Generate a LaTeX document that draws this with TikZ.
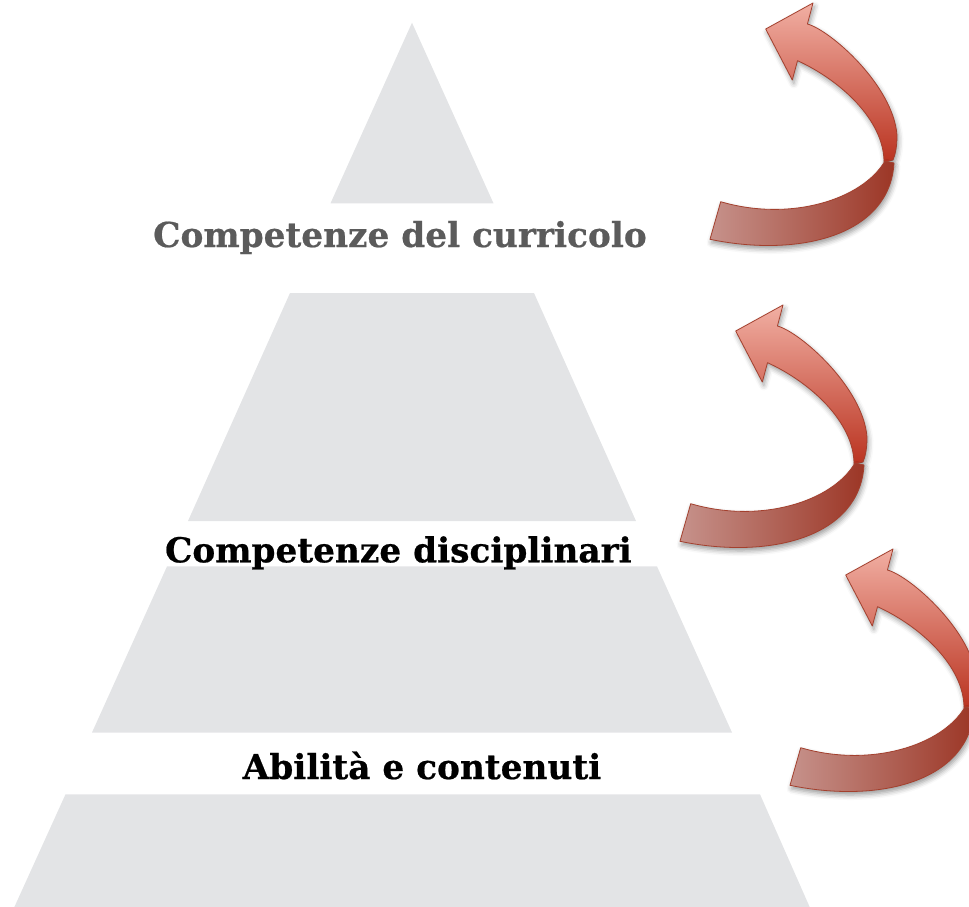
\documentclass[tikz,border=0pt]{standalone}
\usepackage{fontspec}
\setmainfont{DejaVu Serif}[BoldFeatures={FakeBold=0.6}]
\usepackage{tikz}
\usetikzlibrary{shadows.blur}
\definecolor{layergray}{HTML}{E3E4E6}
\definecolor{labelgray}{HTML}{5B5B5B}
\definecolor{arrowedge}{HTML}{A3402E}
\definecolor{arrowlight}{HTML}{F1AFA3}
\definecolor{arrowmid}{HTML}{D86552}
\definecolor{arrowdark}{HTML}{BA3320}
\definecolor{backlight}{HTML}{C6928B}
\definecolor{backdark}{HTML}{9C3626}
\tikzset{
  layer/.style={fill=layergray, draw=none},
  lbl/.style={font=\fontsize{34.3}{40}\selectfont\bfseries, inner sep=0pt, anchor=base},
  arrowshadow/.style={blur shadow={shadow xshift=1.5pt, shadow yshift=-3.5pt,
                                   shadow opacity=40, shadow blur radius=5pt}},
  ribbonarrow/.pic={
    \draw[draw=arrowedge, line width=0.8pt, line join=round, arrowshadow,
          top color=arrowlight, middle color=arrowmid, bottom color=arrowdark]
      (-34.3,-91) -- (13,-117) -- (7.4,-96)
      .. controls (30,-90) and (93,-35) .. (97,15)
      .. controls (97,28) and (95,35) .. (93,40)
      -- (84,42)
      .. controls (84,0) and (40,-40) .. (-2.5,-59.3)
      -- (-7.7,-40) -- cycle;
    \draw[draw=arrowedge, line width=0.8pt, line join=round, arrowshadow,
          left color=backlight, right color=backdark]
      (85,41) .. controls (62,80) and (-10,102) .. (-79.3,81.7)
      -- (-90,119.3)
      .. controls (0,138) and (90,115) .. (94,43) -- cycle;
  },
}

\begin{document}
\begin{tikzpicture}[x=1pt, y=-1pt]
    \useasboundingbox (0,0) rectangle (969,907);

    \fill[layer] (412,22.7) -- (493.5,203.3) -- (330.5,203.3) -- cycle;
    \fill[layer] (290,293) -- (534,293) -- (636,521) -- (188,521) -- cycle;
    \fill[layer] (167,566.4) -- (657,566.4) -- (732,732.5) -- (92,732.5) -- cycle;
    \fill[layer] (65.5,794.3) -- (760,794.3) -- (811,910) -- (13,910) -- cycle;

    \node[lbl, text=labelgray] (curricolo) at (400,247) {Competenze del curricolo};
    \node[lbl] (discipline) at (398.4,562.3) {Competenze disciplinari};
    \node[lbl] (abilita) at (422,779) {Abilità e contenuti};

    \pic at (800,120) {ribbonarrow};
    \pic at (770,422) {ribbonarrow};
    \pic at (880,666) {ribbonarrow};
\end{tikzpicture}
\end{document}
